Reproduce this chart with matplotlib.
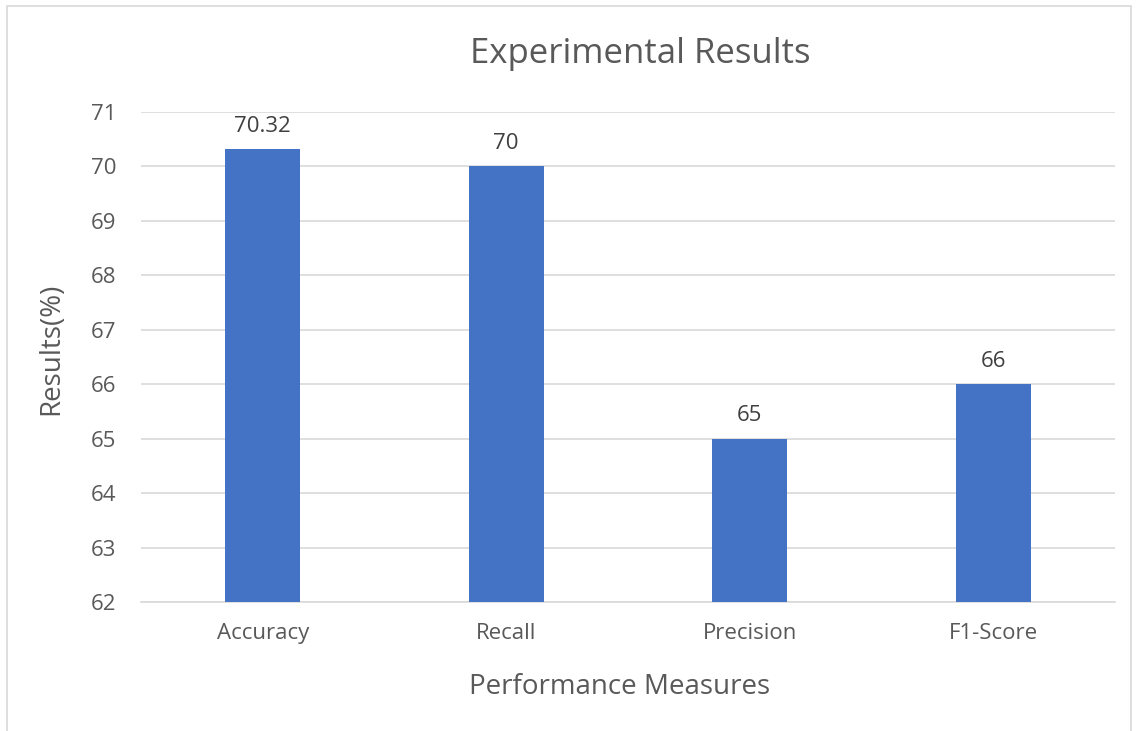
import matplotlib
matplotlib.use("Agg")
import matplotlib.pyplot as plt
from matplotlib.patches import Rectangle

categories = ["Accuracy", "Recall", "Precision", "F1-Score"]
values = [70.32, 70, 65, 66]
value_labels = ["70.32", "70", "65", "66"]
yticks = [62, 63, 64, 65, 66, 67, 68, 69, 70, 71]

plt.rcParams["font.family"] = ["Open Sans", "DejaVu Sans"]

W, H = 1138, 731
fig = plt.figure(figsize=(W / 100, H / 100), dpi=100)
fig.patch.set_facecolor("white")

# thin outer frame around the chart area
fig.add_artist(Rectangle((7 / W, -0.01), (1131 - 7) / W, (H - 6) / H + 0.01,
                         transform=fig.transFigure, fill=False,
                         edgecolor="#d9d9d9", linewidth=1.2))

ax = fig.add_axes([141 / W, 129 / H, (1115 - 141) / W, (602 - 112) / H])
x = range(len(categories))
bars = ax.bar(x, values, width=0.31, color="#4472c4", zorder=3, bottom=0)

ax.set_xlim(-0.5, len(categories) - 0.5)
ax.set_ylim(62, 71)
ax.set_yticks(yticks)
ax.set_xticks(list(x))
ax.set_xticklabels(categories)
ax.grid(axis="y", color="#d9d9d9", linewidth=1.2, zorder=0)
for s in ["top", "right", "left"]:
    ax.spines[s].set_visible(False)
ax.spines["bottom"].set_color("#d9d9d9")
ax.spines["bottom"].set_linewidth(1.2)
ax.tick_params(length=0, labelsize=16, colors="#595959")
ax.tick_params(axis="x", pad=15)
ax.tick_params(axis="y", pad=18)

for xi, v, lab in zip(x, values, value_labels):
    ax.annotate(lab, (xi, v), xytext=(0, 9), textcoords="offset points",
                ha="center", va="bottom", fontsize=16, color="#404040")

fig.text(640 / W, 1 - 54 / H, "Experimental Results", ha="center", va="center",
         fontsize=25, color="#595959")
fig.text(620 / W, 1 - 687 / H, "Performance Measures", ha="center", va="center",
         fontsize=20, color="#595959")
fig.text(51 / W, 1 - 349 / H, "Results(%)", ha="center", va="center",
         rotation=90, fontsize=20, color="#595959")

fig.savefig("out.png", dpi=100)
